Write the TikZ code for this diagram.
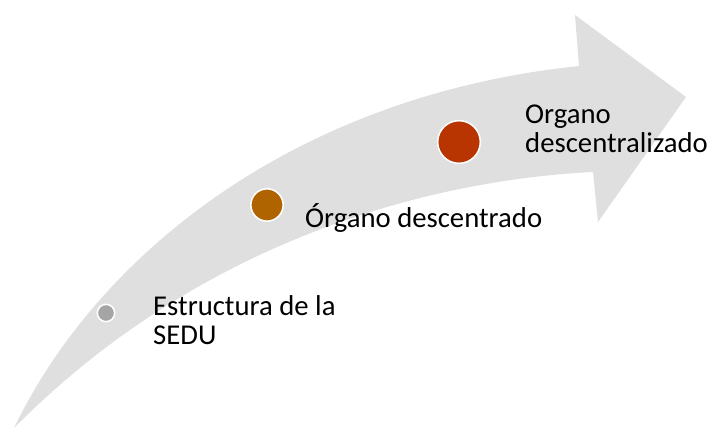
\documentclass[tikz,border=0pt]{standalone}
\usepackage{fontspec}
\setmainfont{Carlito}
\usepackage{tikz}
\usetikzlibrary{arrows}

\definecolor{arrowgray}{HTML}{DFDFDF}
\definecolor{stagegray}{HTML}{A5A5A5}
\definecolor{stagebrown}{HTML}{B06400}
\definecolor{stagered}{HTML}{B83400}

\begin{document}
\begin{tikzpicture}[x=0.03cm, y=-0.03cm,
		stagedot/.style={circle, draw=white, line width=1.3pt, inner sep=0pt},
		stagetext/.style={anchor=base west, inner sep=0pt, align=left, font=\fontsize{24.5}{25.5}\selectfont}]
		\newcommand\stagemark[6]{ %% argument 1: name, 2: x, 3: y, 4: size, 5: colour, 6: label position (last baseline)
			\node[stagedot, fill=#5, minimum size=#4] (#1) at (#2,#3) {};
			\coordinate (#1-label) at #6;
		}
		
		\useasboundingbox (0,0) rectangle (717,429);
		
		%% the curved arrow
		\fill[arrowgray] (14,428) .. controls (100,250) and (300,95) .. (579,66)
			-- (575,15) -- (686,97) -- (598,222) -- (593,172)
			.. controls (430,180) and (200,240) .. (14,428) -- cycle;
		
		\stagemark{sedu}{106}{313}{0.52cm}{stagegray}{(153,345)}
		\stagemark{desconc}{267}{205}{0.97cm}{stagebrown}{(305,228)}
		\stagemark{descent}{459}{142}{1.28cm}{stagered}{(525,153)}
		
		\node[stagetext] (sedutext) at (sedu-label) {Estructura de la\\SEDU};
		\node[stagetext] (desconctext) at (desconc-label) {Órgano descentrado};
		\node[stagetext] (descenttext) at (descent-label) {Organo\\descentralizado};
	\end{tikzpicture}
\end{document}
